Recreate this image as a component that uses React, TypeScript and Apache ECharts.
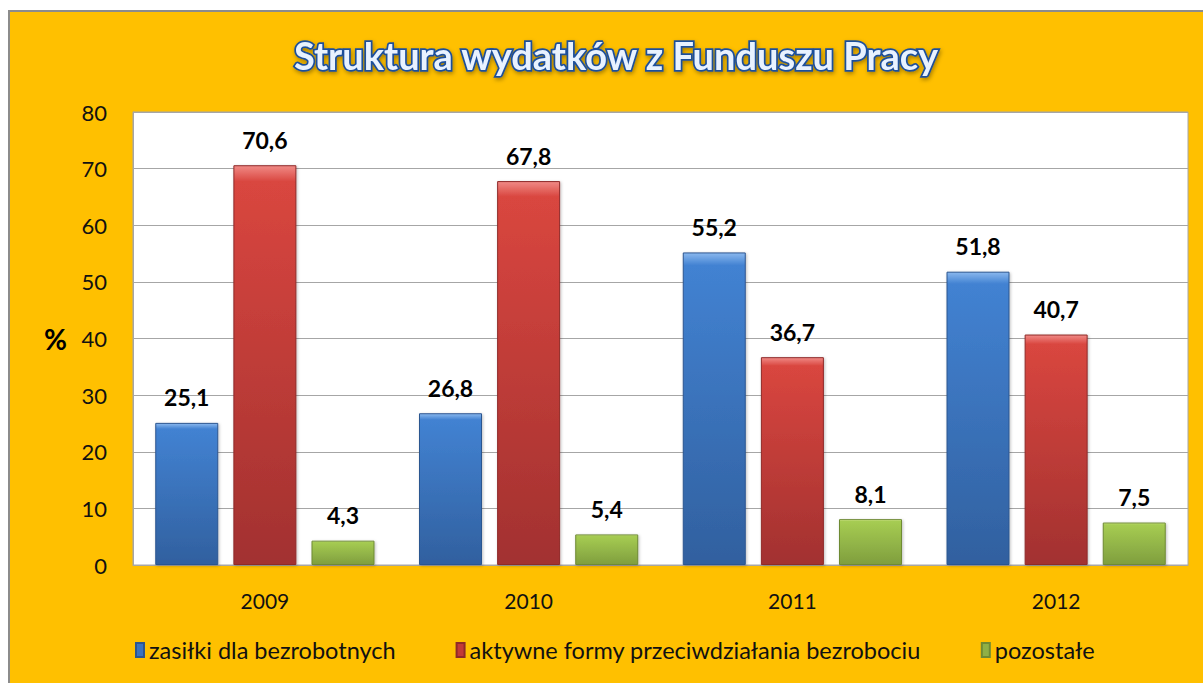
import React, { useEffect, useRef } from "react";
import * as echarts from "echarts";

const categories = ["2009", "2010", "2011", "2012"];
const seriesNames = [
  "zasiłki dla bezrobotnych",
  "aktywne formy przeciwdziałania bezrobociu",
  "pozostałe",
];
const zasilki = [25.1, 26.8, 55.2, 51.8];
const aktywne = [70.6, 67.8, 36.7, 40.7];
const pozostale = [4.3, 5.4, 8.1, 7.5];
const yTicks = { min: 0, max: 80, interval: 10 };

const FONT = "Lato, 'Open Sans', sans-serif";

const grad = (top: string, mid: string, bottom: string) =>
  new echarts.graphic.LinearGradient(0, 0, 0, 1, [
    { offset: 0, color: top },
    { offset: 0.04, color: mid },
    { offset: 1, color: bottom },
  ]);

export default function App() {
  const ref = useRef<HTMLDivElement>(null);
  useEffect(() => {
    if (!ref.current) return;
    const chart = echarts.init(ref.current, undefined, { renderer: "svg" });
    const label = {
      show: true,
      position: "top",
      distance: 14,
      fontFamily: FONT,
      fontWeight: "bold",
      fontSize: 23,
      color: "#000",
      formatter: (p: any) => String(p.value).replace(".", ","),
    };
    const mk = (name: string, data: number[], top: string, mid: string, bottom: string, border: string) => ({
      name,
      type: "bar",
      data,
      barWidth: 63,
      barGap: "24%",
      itemStyle: {
        color: grad(top, mid, bottom),
        borderColor: border,
        borderWidth: 1,
        shadowColor: "rgba(0,0,0,0.25)",
        shadowBlur: 3,
        shadowOffsetX: 1,
        shadowOffsetY: 1,
      },
      label,
    });
    chart.setOption({
      animation: false,
      backgroundColor: "#ffffff",
      graphic: [
        {
          type: "rect",
          z: -10,
          shape: { x: 9, y: 11, width: 1200, height: 680 },
          style: { fill: "#FFC000", stroke: "#8c8c8c", lineWidth: 2 },
        },
      ],
      title: {
        text: "Struktura wydatków z Funduszu Pracy",
        left: 611,
        textAlign: "center",
        top: 31,
        textStyle: {
          fontFamily: FONT,
          fontWeight: "bold",
          fontSize: 38,
          color: "#e8f2ff",
          textBorderColor: "#1f4f9a",
          textBorderWidth: 3.5,
          textShadowColor: "rgba(0,0,0,0.35)",
          textShadowBlur: 4,
          textShadowOffsetX: 1,
          textShadowOffsetY: 2,
        },
      },
      legend: {
        bottom: 16,
        left: 130,
        itemGap: 60,
        itemWidth: 8,
        itemHeight: 14,
        icon: "rect",
        textStyle: { fontFamily: FONT, fontSize: 23.5, color: "#111" },
        data: [
          { name: seriesNames[0], itemStyle: { color: "#3a73c0" } },
          { name: seriesNames[1], itemStyle: { color: "#c23a37" } },
          { name: seriesNames[2], itemStyle: { color: "#8fb046" } },
        ],
      },
      grid: {
        left: 133,
        top: 112,
        width: 1055,
        height: 453,
        show: true,
        backgroundColor: "#ffffff",
        borderColor: "#a6a6a6",
        borderWidth: 1,
      },
      xAxis: {
        type: "category",
        data: categories,
        axisTick: { show: false },
        axisLine: { lineStyle: { color: "#a6a6a6" } },
        axisLabel: { fontFamily: FONT, fontSize: 21, color: "#111", margin: 25 },
      },
      yAxis: {
        type: "value",
        min: yTicks.min,
        max: yTicks.max,
        interval: yTicks.interval,
        name: "%",
        nameLocation: "middle",
        nameRotate: 0,
        nameGap: 66,
        nameTextStyle: { fontFamily: FONT, fontWeight: "bold", fontSize: 28, color: "#000" },
        axisLine: { show: true, lineStyle: { color: "#a6a6a6" } },
        axisTick: { show: false },
        splitLine: { lineStyle: { color: "#a6a6a6" } },
        axisLabel: { fontFamily: FONT, fontSize: 22, color: "#111", margin: 26 },
      },
      series: [
        mk(seriesNames[0], zasilki, "#8ab8ee", "#4282d2", "#31609f", "#2c5690"),
        mk(seriesNames[1], aktywne, "#f08a86", "#d9463f", "#a23130", "#8f2a28"),
        mk(seriesNames[2], pozostale, "#d8f090", "#a6cc52", "#7f9e3e", "#6e8a34"),
      ],
    });
    return () => chart.dispose();
  }, []);
  return (
    <div
      ref={ref}
      style={{ position: "absolute", left: 0, top: 0, width: 1203, height: 683 }}
    />
  );
}
